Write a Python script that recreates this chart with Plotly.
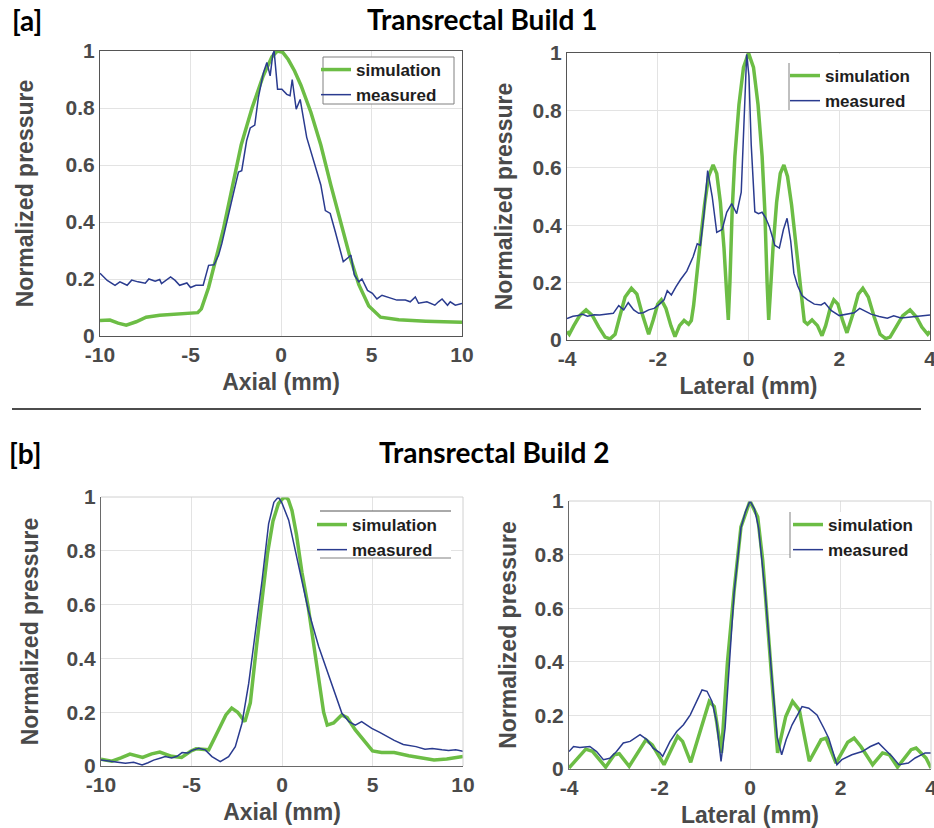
import plotly.graph_objects as go

W, H = 934, 828

# ---------------- data ----------------
# Build 1, axial profile
b1_axial_sim_x = [-10, -9.45, -9.0, -8.55, -8.0, -7.45, -6.7, -5.8, -4.9, -4.6, -4.4, -4.0, -3.6, -3.2,
                  -2.7, -2.2, -1.6, -1.0, -0.5, -0.2, 0.1, 0.4, 0.75, 1.1, 1.65, 2.2, 2.75, 3.3, 3.8,
                  4.3, 4.85, 5.5, 6.5, 8.0, 10]
b1_axial_sim_y = [0.054, 0.056, 0.045, 0.038, 0.05, 0.066, 0.073, 0.076, 0.079, 0.082, 0.095, 0.17, 0.27,
                  0.37, 0.52, 0.67, 0.80, 0.91, 0.98, 1.0, 0.995, 0.97, 0.93, 0.88, 0.785, 0.67, 0.53,
                  0.40, 0.28, 0.18, 0.105, 0.066, 0.057, 0.052, 0.048]
b1_axial_meas_x = [-10, -9.6, -9.17, -8.9, -8.5, -8.25, -7.9, -7.5, -7.3, -6.95, -6.7, -6.6, -6.1, -5.85,
                   -5.6, -5.2, -5.0, -4.7, -4.3, -4.0, -3.7, -3.45, -3.27, -3.0, -2.63, -2.35, -2.17,
                   -1.9, -1.7, -1.45, -1.25, -0.97, -0.78, -0.6, -0.45, -0.38, -0.19, 0.05, 0.32, 0.5,
                   0.62, 0.84, 1.06, 1.42, 1.85, 2.2, 2.45, 2.72, 3.0, 3.44, 3.75, 3.86, 4.05, 4.3, 4.47,
                   4.78, 5.05, 5.3, 5.58, 5.95, 6.4, 6.87, 7.14, 7.42, 7.6, 8.06, 8.3, 8.5, 8.7, 8.9,
                   9.2, 9.35, 9.63, 10]
b1_axial_meas_y = [0.22, 0.195, 0.178, 0.19, 0.178, 0.196, 0.19, 0.185, 0.2, 0.192, 0.198, 0.184, 0.207,
                   0.195, 0.178, 0.186, 0.17, 0.178, 0.178, 0.248, 0.25, 0.283, 0.324, 0.394, 0.5, 0.575,
                   0.58, 0.685, 0.73, 0.74, 0.837, 0.924, 0.96, 0.913, 0.99, 1.0, 0.866, 0.866, 0.848,
                   0.843, 0.9, 0.796, 0.83, 0.697, 0.6, 0.53, 0.44, 0.43, 0.366, 0.261, 0.277, 0.284,
                   0.214, 0.19, 0.2, 0.16, 0.15, 0.13, 0.143, 0.135, 0.126, 0.126, 0.12, 0.137, 0.115,
                   0.12, 0.114, 0.108, 0.12, 0.13, 0.108, 0.12, 0.108, 0.114]

# Build 1, lateral profile
b1_lat_sim_x = [-4.0, -3.95, -3.85, -3.72, -3.58, -3.44, -3.3, -3.16, -3.05, -2.94, -2.84, -2.72, -2.58,
                -2.46, -2.34, -2.2, -2.1, -2.0, -1.92, -1.82, -1.71, -1.62, -1.52, -1.42, -1.32, -1.26,
                -1.21, -1.13, -1.05, -0.97, -0.88, -0.78, -0.7, -0.62, -0.54, -0.48, -0.445, -0.41,
                -0.36, -0.3, -0.21, -0.11, 0,
                0.11, 0.21, 0.3, 0.36, 0.41, 0.445, 0.48, 0.54, 0.62, 0.7, 0.78, 0.86, 0.95, 1.03,
                1.11, 1.19, 1.23, 1.3, 1.4, 1.52, 1.62, 1.7, 1.8, 1.88, 1.97, 2.07, 2.17, 2.3, 2.42,
                2.52, 2.64, 2.77, 2.9, 3.02, 3.12, 3.25, 3.4, 3.56, 3.7, 3.82, 3.95, 4.0]
b1_lat_sim_y = [0.03, 0.02, 0.05, 0.085, 0.105, 0.085, 0.045, 0.01, 0.004, 0.02, 0.08, 0.15, 0.18, 0.16,
                0.09, 0.02, 0.07, 0.125, 0.14, 0.11, 0.05, 0.012, 0.05, 0.068, 0.055, 0.068, 0.12, 0.25,
                0.36, 0.47, 0.57, 0.61, 0.58, 0.48, 0.32, 0.16, 0.07, 0.2, 0.45, 0.64, 0.82, 0.95, 1.0,
                0.95, 0.82, 0.64, 0.45, 0.2, 0.07, 0.16, 0.32, 0.48, 0.58, 0.61, 0.57, 0.47, 0.36, 0.25,
                0.12, 0.065, 0.055, 0.07, 0.05, 0.015, 0.05, 0.11, 0.14, 0.125, 0.07, 0.025, 0.09, 0.16,
                0.18, 0.15, 0.08, 0.02, 0.005, 0.01, 0.045, 0.085, 0.105, 0.08, 0.045, 0.02, 0.03]
b1_lat_meas_x = [-4.0, -3.87, -3.75, -3.67, -3.55, -3.4, -3.28, -3.1, -2.98, -2.86, -2.75, -2.65, -2.53,
                 -2.42, -2.32, -2.2, -2.08, -1.96, -1.86, -1.79, -1.7, -1.6, -1.5, -1.36, -1.22, -1.13,
                 -1.06, -0.98, -0.9, -0.8, -0.7, -0.58, -0.48, -0.37, -0.26, -0.16, -0.1, -0.04, 0.01,
                 0.06, 0.14, 0.22, 0.3, 0.38, 0.46, 0.58, 0.68, 0.77, 0.85, 0.93, 1.0, 1.08, 1.18, 1.3,
                 1.45, 1.6, 1.68, 1.82, 2.0, 2.18, 2.33, 2.45, 2.56, 2.7, 2.88, 3.06, 3.2, 3.36, 3.58,
                 3.8, 4.0]
b1_lat_meas_y = [0.075, 0.083, 0.085, 0.09, 0.083, 0.088, 0.087, 0.09, 0.093, 0.12, 0.105, 0.13, 0.105,
                 0.093, 0.095, 0.105, 0.11, 0.125, 0.14, 0.172, 0.157, 0.185, 0.21, 0.24, 0.29, 0.335,
                 0.33, 0.44, 0.59, 0.5, 0.375, 0.385, 0.445, 0.475, 0.44, 0.515, 0.78, 0.995, 0.92, 0.68,
                 0.447, 0.44, 0.445, 0.425, 0.395, 0.33, 0.32, 0.385, 0.424, 0.345, 0.233, 0.19, 0.155,
                 0.14, 0.125, 0.122, 0.13, 0.103, 0.085, 0.09, 0.095, 0.11, 0.1, 0.09, 0.082, 0.076,
                 0.084, 0.077, 0.08, 0.084, 0.087]

# Build 2, axial profile
b2_axial_sim_x = [-10, -9.4, -8.9, -8.4, -7.7, -7.2, -6.75, -6.1, -5.55, -5.05, -4.75, -4.05, -3.5, -3.1,
                  -2.78, -2.45, -2.05, -1.75, -1.4, -1.1, -0.8, -0.5, -0.2, 0.05, 0.2, 0.35, 0.55, 0.8,
                  1.1, 1.45, 1.75, 2.05, 2.3, 2.5, 2.85, 3.3, 3.6, 4.05, 4.5, 5.0, 5.5, 6.2, 7.0, 7.8,
                  8.4, 9.1, 10]
b2_axial_sim_y = [0.025, 0.018, 0.03, 0.044, 0.032, 0.045, 0.052, 0.036, 0.032, 0.055, 0.064, 0.06, 0.135,
                  0.19, 0.215, 0.2, 0.165, 0.235, 0.45, 0.62, 0.79, 0.91, 0.975, 0.995, 1.0, 0.99, 0.95,
                  0.86, 0.72, 0.59, 0.45, 0.32, 0.2, 0.152, 0.16, 0.19, 0.18, 0.134, 0.095, 0.056, 0.05,
                  0.05, 0.038, 0.028, 0.022, 0.026, 0.035]
b2_axial_meas_x = [-10, -9.6, -9.2, -8.65, -8.2, -7.73, -7.4, -7.09, -6.7, -6.45, -6.1, -5.8, -5.52, -5.2,
                   -4.97, -4.6, -4.24, -3.87, -3.41, -2.95, -2.58, -2.21, -1.84, -1.47, -1.1, -0.74,
                   -0.45, -0.2, 0.0, 0.37, 0.92, 1.45, 2.03, 2.58, 3.0, 3.31, 3.7, 4.05, 4.4, 4.7, 4.96,
                   5.4, 5.8, 6.2, 6.7, 7.1, 7.4, 7.9, 8.3, 8.84, 9.2, 9.6, 10]
b2_axial_meas_y = [0.022, 0.018, 0.016, 0.01, 0.014, 0.004, 0.012, 0.022, 0.03, 0.035, 0.03, 0.036, 0.05,
                   0.048, 0.058, 0.066, 0.06, 0.035, 0.016, 0.035, 0.072, 0.159, 0.307, 0.493, 0.69, 0.9,
                   0.98, 1.0, 0.977, 0.914, 0.74, 0.58, 0.443, 0.338, 0.26, 0.196, 0.165, 0.152, 0.165,
                   0.15, 0.14, 0.125, 0.109, 0.095, 0.08, 0.075, 0.072, 0.062, 0.065, 0.06, 0.058, 0.06,
                   0.055]

# Build 2, lateral profile
b2_lat_sim_x = [-4, -3.82, -3.63, -3.48, -3.19, -3.0, -2.89, -2.67, -2.45, -2.3, -2.16, -1.9, -1.6, -1.49,
                -1.31, -1.09, -0.9, -0.79, -0.63, -0.5, -0.35, -0.2, 0, 0.17, 0.28, 0.48, 0.61, 0.79,
                0.94, 1.09, 1.31, 1.57, 1.68, 1.9, 2.16, 2.3, 2.45, 2.71, 2.93, 3.08, 3.26, 3.56, 3.67,
                3.89, 4]
b2_lat_sim_y = [0.004, 0.04, 0.074, 0.066, 0.007, 0.053, 0.057, 0.01, 0.072, 0.109, 0.09, 0.016, 0.122,
                0.103, 0.025, 0.146, 0.252, 0.233, 0.06, 0.395, 0.667, 0.903, 1.0, 0.94, 0.78, 0.34,
                0.06, 0.196, 0.252, 0.22, 0.029, 0.109, 0.115, 0.022, 0.1, 0.115, 0.084, 0.016, 0.06,
                0.053, 0.007, 0.072, 0.078, 0.041, 0.004]
b2_lat_meas_x = [-4.0, -3.9, -3.76, -3.54, -3.39, -3.24, -3.1, -2.95, -2.8, -2.65, -2.43, -2.28, -2.14,
                 -1.99, -1.93, -1.77, -1.62, -1.47, -1.32, -1.18, -1.06, -0.95, -0.84, -0.74, -0.64,
                 -0.55, -0.44, -0.35, -0.2, -0.1, 0.0, 0.1, 0.19, 0.34, 0.48, 0.6, 0.7, 0.8, 0.93, 1.15,
                 1.3, 1.48, 1.63, 1.74, 1.92, 2.03, 2.25, 2.48, 2.66, 2.84, 2.99, 3.14, 3.29, 3.5, 3.65,
                 3.87, 4.0]
b2_lat_meas_y = [0.065, 0.084, 0.08, 0.084, 0.065, 0.035, 0.04, 0.065, 0.097, 0.103, 0.128, 0.11, 0.078,
                 0.06, 0.047, 0.102, 0.14, 0.165, 0.202, 0.252, 0.295, 0.29, 0.252, 0.177, 0.028, 0.153,
                 0.425, 0.66, 0.9, 0.96, 1.0, 0.97, 0.9, 0.65, 0.35, 0.12, 0.053, 0.11, 0.165, 0.233,
                 0.227, 0.202, 0.153, 0.115, 0.016, 0.035, 0.053, 0.065, 0.084, 0.097, 0.072, 0.047,
                 0.016, 0.022, 0.041, 0.06, 0.06]

axial_ticks = [-10, -5, 0, 5, 10]
lateral_ticks = [-4, -2, 0, 2, 4]
pressure_ticks = [0, 0.2, 0.4, 0.6, 0.8, 1]
pressure_labels = ["0", "0.2", "0.4", "0.6", "0.8", "1"]

series_names = ["simulation", "measured"]
section_titles = ["Transrectal Build 1", "Transrectal Build 2"]
section_tags = ["[a]", "[b]"]

# ---------------- styling ----------------
GREEN = "#6cbd45"
BLUE = "#2a3b8f"
AX_TEXT = "#4a4a4a"
GRID = "#e3e3e3"
FONT = "Liberation Sans"
TITLE_FONT = "Lato"


def fx(p):
    return p / W


def fy(p):
    return 1 - p / H


# plot-area boxes in pixels: (left, right, top, bottom) and y-title standoff per panel
boxes = [(100, 462, 51, 336), (567, 930, 53, 340), (101, 463, 497, 766), (569, 931, 501, 769)]
ytitle_standoff = [25, 13, 21, 11]

panels = [
    (b1_axial_sim_x, b1_axial_sim_y, b1_axial_meas_x, b1_axial_meas_y, axial_ticks, "Axial (mm)"),
    (b1_lat_sim_x, b1_lat_sim_y, b1_lat_meas_x, b1_lat_meas_y, lateral_ticks, "Lateral (mm)"),
    (b2_axial_sim_x, b2_axial_sim_y, b2_axial_meas_x, b2_axial_meas_y, axial_ticks, "Axial (mm)"),
    (b2_lat_sim_x, b2_lat_sim_y, b2_lat_meas_x, b2_lat_meas_y, lateral_ticks, "Lateral (mm)"),
]

fig = go.Figure()
layout = dict(
    width=W, height=H,
    margin=dict(l=0, r=0, t=0, b=0, autoexpand=False),
    paper_bgcolor="white", plot_bgcolor="white",
    showlegend=True,
    font=dict(family=FONT, color=AX_TEXT),
)

shapes = []
tick_font = dict(family=FONT, size=21, color=AX_TEXT, weight="bold")
axis_title_font = dict(family=FONT, size=23, color=AX_TEXT, weight="bold")

for i, (sx, sy, mx, my, xt, xlabel) in enumerate(panels):
    n = "" if i == 0 else str(i + 1)
    xa, ya = "x" + n, "y" + n
    leg = "legend" + n
    left, right, top, bottom = boxes[i]
    top_row = i < 2

    fig.add_trace(go.Scatter(x=sx, y=sy, mode="lines", name=series_names[0], xaxis=xa, yaxis=ya,
                             legend=leg, line=dict(color=GREEN, width=3.5)))
    fig.add_trace(go.Scatter(x=mx, y=my, mode="lines", name=series_names[1], xaxis=xa, yaxis=ya,
                             legend=leg, line=dict(color=BLUE, width=1.5)))

    line_col = "#555555" if top_row else "#6a6a6a"
    layout["xaxis" + n] = dict(
        domain=[fx(left), fx(right)], anchor=ya, range=[xt[0], xt[-1]], automargin=False,
        tickvals=xt, ticktext=[str(v) for v in xt], tickfont=tick_font, ticklabeloverflow="allow",
        showgrid=True, gridcolor=GRID, gridwidth=1, zeroline=False,
        showline=True, linecolor=line_col, linewidth=1, mirror=top_row, ticks="",
        title=dict(text=xlabel, font=axis_title_font, standoff=8),
    )
    layout["yaxis" + n] = dict(
        domain=[fy(bottom), fy(top)], anchor=xa, range=[0, 1], automargin=False,
        tickvals=pressure_ticks, ticktext=pressure_labels, tickfont=tick_font, ticklabeloverflow="allow",
        showgrid=True, gridcolor=GRID, gridwidth=1, zeroline=False,
        showline=True, linecolor=line_col, linewidth=1, mirror=top_row, ticks="",
        title=dict(text="Normalized pressure", font=axis_title_font, standoff=ytitle_standoff[i]),
    )
    if not top_row:
        # faint top and right frame edges
        shapes.append(dict(type="line", xref=xa + " domain", yref=ya + " domain", x0=0, x1=1, y0=1, y1=1,
                           line=dict(color="#d0d0d0", width=1)))
        shapes.append(dict(type="line", xref=xa + " domain", yref=ya + " domain", x0=1, x1=1, y0=0, y1=1,
                           line=dict(color="#d0d0d0", width=1)))

# legend backdrops (white boxes) and their visible frame edges
LEG_EDGE = "#808080"
backdrops = [(323, 454, 57, 104), (789, 929, 54, 110), (320, 451, 511, 558), (790, 930, 512, 558)]
for (x0, x1, y0, y1) in backdrops:
    shapes.append(dict(type="rect", xref="paper", yref="paper", x0=fx(x0), x1=fx(x1), y0=fy(y1), y1=fy(y0),
                       fillcolor="white", line=dict(width=0), layer="above"))


def edge(x0, y0, x1, y1, color=LEG_EDGE):
    return dict(type="line", xref="paper", yref="paper", x0=fx(x0), x1=fx(x1), y0=fy(y0), y1=fy(y1),
                line=dict(color=color, width=1), layer="above")


shapes += [
    # full frame round the first legend
    edge(323, 57, 454, 57), edge(323, 104, 454, 104), edge(323, 57, 323, 104), edge(454, 57, 454, 104),
    # left edge only
    edge(789, 63, 789, 110),
    # top and bottom edges only
    edge(320, 511, 451, 511, "#555555"), edge(320, 558, 451, 558),
    # left edge only
    edge(790, 512, 790, 558),
]

legend_font = dict(family=FONT, size=17, color="#1e1e1e", weight="bold")
legend_pos = [(316, 52), (785, 58), (312, 507), (788, 507)]
for i, (lx, ly) in enumerate(legend_pos):
    n = "" if i == 0 else str(i + 1)
    layout["legend" + n] = dict(
        x=fx(lx), y=fy(ly), xanchor="left", yanchor="top", xref="paper", yref="paper",
        font=legend_font, bgcolor="rgba(0,0,0,0)", borderwidth=0,
        tracegroupgap=0, itemwidth=30,
    )

# separator between the two builds
shapes.append(dict(type="line", xref="paper", yref="paper", x0=fx(12), x1=fx(921), y0=fy(409), y1=fy(409),
                   line=dict(color="#111111", width=1.5)))

layout["shapes"] = shapes

title_font = dict(family=TITLE_FONT, size=28, color="black", weight="bold")
annotations = [
    dict(text=section_tags[0], x=fx(27), y=fy(20), xanchor="center", yanchor="middle"),
    dict(text=section_titles[0], x=fx(482), y=fy(19), xanchor="center", yanchor="middle"),
    dict(text=section_tags[1], x=fx(25), y=fy(453), xanchor="center", yanchor="middle"),
    dict(text=section_titles[1], x=fx(494), y=fy(452), xanchor="center", yanchor="middle"),
]
for a in annotations:
    a.update(xref="paper", yref="paper", showarrow=False, font=title_font)
layout["annotations"] = annotations

fig.update_layout(**layout)
fig.write_html("out.html")
